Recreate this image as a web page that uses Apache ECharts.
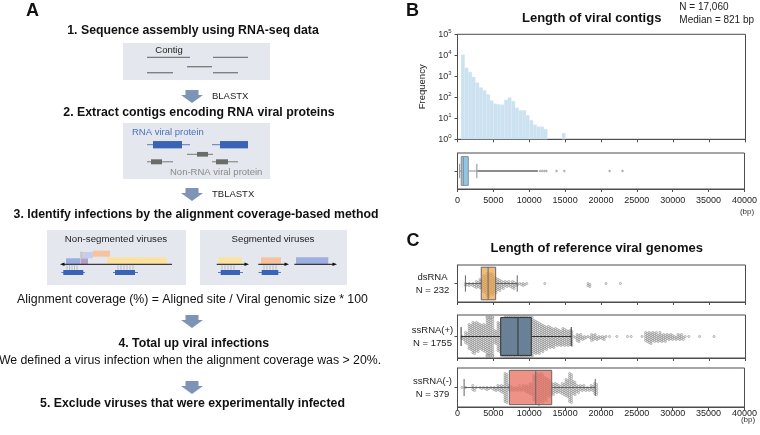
<!DOCTYPE html>
<html><head><meta charset="utf-8">
<script src="https://cdn.jsdelivr.net/npm/echarts@6/dist/echarts.min.js"></script>
<style>html,body{margin:0;padding:0;background:#fff}#c{width:760px;height:435px}</style>
</head><body><div id="c"></div>
<script>
const FONT = 'Liberation Sans, Arial, Helvetica, sans-serif';
const BIN = 500;

// ---- Panel B: viral contig lengths (counts per 500 bp bin, starting at 500 bp)
const contigBinStart = 500;
const contigCounts = [10700, 2570, 1580, 930, 500, 295, 214, 138, 71, 50, 46, 45, 76, 98, 66, 32, 24, 24, 14, 8, 5, 4, 4, 3, 1, 1, 1, 1, 2];
const contigBox = [300, 520, 821, 1500, 2700];       // min, Q1, median, Q3, upper whisker
const contigDenseOutliers = [2750, 11200];           // continuous band of outliers
const contigOutliers = [11500, 11800, 12100, 12400, 13800, 14900, 21200, 23000];
const contigN = '17,060';
const contigMedian = 821;

// ---- Panel C: reference genome lengths
const groups = ['dsRNA', 'ssRNA(+)', 'ssRNA(-)'];
const groupN = [232, 1755, 379];
const groupBox = [
  [1100, 3300, 4250, 5300, 8300],
  [500, 6000, 8400, 10250, 15800],
  [920, 7230, 10900, 13130, 19200]
];
// swarm point counts per 500 bp bin starting at 0 bp (as visible in the swarm)
const dsCounts = [0,0,3,3,4,7,10,18,24,22,16,12,8,6,5,8,3,2,3,1,0,0,0,0,1,0,0,0,0,0,0,0,0,0,0,0,4,0,0,0,0,1,0,0,0,1];
const posCounts = [0,4,12,26,32,30,26,28,48,46,14,30,40,48,50,52,50,48,50,46,42,34,32,28,24,22,20,18,16,18,16,16,2,8,5,3,2,7,5,3,4,1,1,0,1,0,0,1,1,0,0,1,10,12,10,9,9,8,6,6,4,6,5,1,1,0,0,1,0,0,0,1];
const negCounts = [0,1,1,0,5,1,2,2,3,2,4,6,8,30,6,4,4,5,6,8,12,26,32,30,24,18,12,10,8,12,18,30,14,8,6,5,4,6,12];
const groupCounts = [dsCounts, posCounts, negCounts];
const groupColors = ['rgba(236,160,70,0.7)', 'rgba(100,124,148,0.92)', 'rgba(232,110,96,0.75)'];
const groupStroke = ['#666', '#333', '#666'];

const xTicks = {min: 0, max: 40000, interval: 5000};

// ---------- layout
const GL = 457.5, GW = 288;
const grids = [
  {left: GL, top: 34.3, width: GW, height: 105},   // hist
  {left: GL, top: 153, width: GW, height: 36},     // B box
  {left: GL, top: 265, width: GW, height: 37},     // dsRNA
  {left: GL, top: 315, width: GW, height: 43},     // ssRNA(+)
  {left: GL, top: 368, width: GW, height: 39}      // ssRNA(-)
].map(g => Object.assign({show: true, borderColor: '#4d4d4d', borderWidth: 1, backgroundColor: 'transparent'}, g));

const axisLineStyle = {color: '#4d4d4d', width: 1};
function xAxis(i, showLabels, margin) {
  return {
    type: 'value', gridIndex: i, min: xTicks.min, max: xTicks.max, interval: xTicks.interval,
    axisLine: {show: true, lineStyle: axisLineStyle},
    axisTick: {show: true, length: 3, lineStyle: axisLineStyle},
    splitLine: {show: false},
    axisLabel: {show: showLabels, fontSize: 9, color: '#222', fontFamily: FONT, margin: margin, formatter: v => String(v)}
  };
}
const xAxes = [xAxis(0, false, 5), xAxis(1, true, 7), xAxis(2, false, 5), xAxis(3, false, 5), xAxis(4, true, 2)];

const yAxes = [
  {
    type: 'log', gridIndex: 0, min: 1, max: 100000, logBase: 10,
    name: 'Frequency', nameLocation: 'middle', nameGap: 30, nameRotate: 90,
    nameTextStyle: {fontSize: 9.5, color: '#222', fontFamily: FONT},
    axisLine: {show: true, lineStyle: axisLineStyle},
    axisTick: {show: true, length: 3, lineStyle: axisLineStyle},
    splitLine: {show: false},
    axisLabel: {
      margin: 6, fontFamily: FONT, color: '#333',
      formatter: v => '{b|10}{s|' + Math.round(Math.log10(v)) + '}',
      rich: {b: {fontSize: 9, fontFamily: FONT, color: '#333'}, s: {fontSize: 6, fontFamily: FONT, color: '#333', padding: [0, 0, 6, 0]}}
    }
  },
  {
    type: 'category', gridIndex: 1, data: [''],
    axisLine: {show: true, lineStyle: axisLineStyle},
    axisTick: {show: true, length: 3, alignWithLabel: true, lineStyle: axisLineStyle},
    axisLabel: {show: false}
  }
].concat(groups.map((g, i) => ({
  type: 'category', gridIndex: i + 2, data: [g + '\nN = ' + groupN[i]],
  axisLine: {show: true, lineStyle: axisLineStyle},
  axisTick: {show: true, length: 3, alignWithLabel: true, lineStyle: axisLineStyle},
  axisLabel: {fontSize: 9.5, color: '#222', fontFamily: FONT, align: 'center', margin: 25, lineHeight: 13}
})));

// ---------- series
const series = [];

// histogram
series.push({
  type: 'custom', xAxisIndex: 0, yAxisIndex: 0,
  data: contigCounts.map((n, i) => [contigBinStart + i * BIN, n]),
  encode: {x: 0, y: 1},
  renderItem(params, api) {
    const s = api.value(0), n = api.value(1);
    const p0 = api.coord([s, n]), p1 = api.coord([s + BIN, 1]);
    return {type: 'rect', shape: {x: p0[0], y: p0[1], width: p1[0] - p0[0], height: p1[1] - p0[1]}, style: {fill: '#cce2f1'}};
  }
});

function boxSeries(gi, stats, fill, stroke, frac, lw, z) {
  return {
    type: 'custom', xAxisIndex: gi, yAxisIndex: gi, z: z,
    data: [[0].concat(stats)],
    encode: {y: 0, x: [1, 2, 3, 4, 5]},
    renderItem(params, api) {
      const cy = api.coord([api.value(3), 0])[1];
      const h = api.size([0, 1])[1] * frac;
      const px = k => api.coord([api.value(k), 0])[0];
      const mn = px(1), q1 = px(2), md = px(3), q3 = px(4), mx = px(5);
      const ls = {stroke: stroke, lineWidth: lw};
      return {type: 'group', children: [
        {type: 'line', shape: {x1: mn, y1: cy, x2: q1, y2: cy}, style: ls},
        {type: 'line', shape: {x1: q3, y1: cy, x2: mx, y2: cy}, style: ls},
        {type: 'line', shape: {x1: mn, y1: cy - h / 4, x2: mn, y2: cy + h / 4}, style: ls},
        {type: 'line', shape: {x1: mx, y1: cy - h / 4, x2: mx, y2: cy + h / 4}, style: ls},
        {type: 'rect', shape: {x: q1, y: cy - h / 2, width: q3 - q1, height: h}, style: {fill: fill, stroke: stroke, lineWidth: lw}},
        {type: 'line', shape: {x1: md, y1: cy - h / 2, x2: md, y2: cy + h / 2}, style: ls}
      ]};
    }
  };
}

// B boxplot
series.push({
  type: 'line', xAxisIndex: 1, yAxisIndex: 1, z: 2, symbol: 'none', silent: true,
  data: contigDenseOutliers.map(v => [v, 0]),
  lineStyle: {color: '#8c8c8c', width: 2}
});
series.push(boxSeries(1, contigBox, '#8fc8e6', '#8c8c8c', 0.8, 1, 3));
series.push({
  type: 'scatter', xAxisIndex: 1, yAxisIndex: 1, symbol: 'diamond', symbolSize: 3,
  data: contigOutliers.map(v => [v, 0]),
  itemStyle: {color: '#9a9a9a'}
});

// C swarm + boxes
function swarmSeries(gi, counts) {
  const data = [];
  counts.forEach((n, i) => { if (n > 0) data.push([i * BIN, n]); });
  return {
    type: 'custom', xAxisIndex: gi, yAxisIndex: gi, z: 3,
    data: data, encode: {x: 0},
    renderItem(params, api) {
      const x0 = api.value(0), n = api.value(1);
      const a = api.coord([x0, 0]), b = api.coord([x0 + BIN, 0]);
      const cy = a[1];
      const half = api.size([0, 1])[1] / 2 - 2;
      const ncol = 2, step = 2.0;
      const children = [];
      for (let k = 0; k < n; k++) {
        const col = k % ncol, j = Math.floor(k / ncol);
        const m = Math.ceil(j / 2) * (j % 2 ? 1 : -1);
        let off = m * step + (col === 1 ? step / 2 : 0);
        if (off > half) off = half;
        if (off < -half) off = -half;
        const x = a[0] + (b[0] - a[0]) * (col + 0.5) / ncol;
        children.push({type: 'circle', shape: {cx: x, cy: cy + off, r: 1.1},
          style: {fill: '#e4e4e4', stroke: '#7a7a7a', lineWidth: 0.45}});
      }
      return {type: 'group', children: children};
    }
  };
}
groups.forEach((g, i) => {
  series.push(swarmSeries(i + 2, groupCounts[i]));
  series.push(boxSeries(i + 2, groupBox[i], groupColors[i], groupStroke[i], 0.88, 1, 4));
});

// ---------- graphic (panel A diagram + titles)
const G = [];
function T(text, x, y, o) {
  o = o || {};
  G.push({type: 'text', silent: true, style: {text: text, x: x, y: y, fill: o.fill || '#111',
    fontSize: o.size || 12.3, fontWeight: o.weight || 'normal', fontFamily: FONT,
    align: o.align || 'center', verticalAlign: 'middle', textAlign: o.align || 'center', textVerticalAlign: 'middle'}});
}
function R(x, y, w, h, fill) { G.push({type: 'rect', silent: true, shape: {x: x, y: y, width: w, height: h}, style: {fill: fill}}); }
function L(x1, y1, x2, y2, stroke, lw) { G.push({type: 'line', silent: true, shape: {x1: x1, y1: y1, x2: x2, y2: y2}, style: {stroke: stroke, lineWidth: lw}}); }
function P(points, fill) { G.push({type: 'polygon', silent: true, shape: {points: points}, style: {fill: fill}}); }
function blockArrow(top) {
  const cx = 192;
  P([[cx - 6.5, top], [cx + 6.5, top], [cx + 6.5, top + 5], [cx + 11, top + 5], [cx, top + 13], [cx - 11, top + 5], [cx - 6.5, top + 5]], '#7d94b7');
}
const BOXFILL = '#e4e7ee', GENEBLUE = '#3b63b5', GENELINE = '#5b7bbf', GRAYLINE = '#7a7a7a';
function gene(x1, x2, rx, rw, y, h, fill, line) { L(x1, y, x2, y, line, 1); R(rx, y - h / 2, rw, h, fill); }
function ticks(xs, y1, y2) { xs.forEach(x => L(x, y1, x, y2, '#9aa3b8', 0.6)); }

T('A', 32.5, 11.5, {size: 18, weight: 'bold'});
T('B', 412.5, 11, {size: 18, weight: 'bold'});
T('C', 413, 241, {size: 18, weight: 'bold'});

T('1. Sequence assembly using RNA-seq data', 193, 30.7, {weight: 'bold'});
R(123, 43, 147, 37, BOXFILL);
T('Contig', 169, 50, {size: 9.5, fill: '#222'});
L(147, 57.3, 190, 57.3, GRAYLINE, 1.3); L(213, 57.3, 248, 57.3, GRAYLINE, 1.3);
L(187, 66.7, 212, 66.7, GRAYLINE, 1.3);
L(147, 72.7, 173, 72.7, GRAYLINE, 1.3); L(213, 72.7, 238, 72.7, GRAYLINE, 1.3);
blockArrow(90);
T('BLASTX', 212, 96.7, {size: 9.5, align: 'left', fill: '#222'});

T('2. Extract contigs encoding RNA viral proteins', 199, 112.7, {weight: 'bold'});
R(123, 123, 147, 56, BOXFILL);
T('RNA viral protein', 132, 132.3, {size: 9.5, align: 'left', fill: '#4a70c0'});
gene(147, 190, 153, 29, 144.7, 7.3, GENEBLUE, GENELINE);
gene(212, 248, 220, 28, 144.7, 7.3, GENEBLUE, GENELINE);
gene(187, 213, 197, 11, 154.3, 4.7, '#6b6b6b', GRAYLINE);
gene(147, 173, 151, 11, 161.8, 5, '#6b6b6b', GRAYLINE);
gene(212, 238, 216, 12, 161.8, 5, '#6b6b6b', GRAYLINE);
T('Non-RNA viral protein', 170, 172.7, {size: 9.5, align: 'left', fill: '#8a8a8a'});
blockArrow(188);
T('TBLASTX', 212, 194, {size: 9.5, align: 'left', fill: '#222'});

T('3. Identify infections by the alignment coverage-based method', 196, 215, {weight: 'bold'});
R(47, 230, 139, 55, BOXFILL);
R(200, 230, 147, 55, BOXFILL);
T('Non-segmented viruses', 116, 239.3, {size: 9.7, fill: '#222'});
T('Segmented viruses', 273, 239.3, {size: 9.7, fill: '#222'});
// non-segmented
R(66, 258.3, 14, 5.9, '#98aee0');
R(80.5, 258.3, 7.5, 5.9, '#b49fc6');
R(80, 251.7, 3.3, 6.5, '#c8c8d2');
R(83.3, 252, 9.5, 6.3, '#c5cdea');
R(92.7, 250.7, 17.3, 6, '#f6c3a1');
R(107, 257.3, 59.7, 6.9, '#fbe2a0');
L(62, 264.3, 172, 264.3, '#111', 1);
P([[60, 264.3], [64.5, 262.5], [64.5, 266.1]], '#111');
ticks([67, 69.5, 72, 74.5, 77], 264.8, 270);
gene(61.5, 85, 63.3, 20, 272.5, 5, GENEBLUE, GENELINE);
ticks([118, 121, 124, 127, 130, 133], 264.8, 270);
gene(113, 138, 115, 20, 272.5, 5, GENEBLUE, GENELINE);
// segmented
R(218.3, 257.3, 23.4, 6.9, '#fbe2a0');
L(216.7, 264.3, 246, 264.3, '#111', 1);
P([[249, 264.3], [244.5, 262.5], [244.5, 266.1]], '#111');
ticks([222, 225, 228, 231, 234], 264.8, 270);
gene(218, 243, 220.7, 19.3, 272.5, 5, GENEBLUE, GENELINE);
R(261, 257.3, 20, 6.9, '#f6c3a1');
L(258.3, 264.3, 286, 264.3, '#111', 1);
P([[289, 264.3], [284.5, 262.5], [284.5, 266.1]], '#111');
ticks([264, 267, 270, 273, 276], 264.8, 270);
gene(258.5, 281, 261.7, 16.6, 272.5, 5, GENEBLUE, GENELINE);
R(296, 257.3, 32.3, 6.9, '#9eb0de');
L(294.3, 264.3, 334, 264.3, '#111', 1);
P([[337, 264.3], [332.5, 262.5], [332.5, 266.1]], '#111');

T('Alignment coverage (%) = Aligned site / Viral genomic size * 100', 192.5, 300);
blockArrow(315);
T('4. Total up viral infections', 193.8, 343.3, {weight: 'bold'});
T('We defined a virus infection when the alignment coverage was > 20%.', 190, 361);
blockArrow(381);
T('5. Exclude viruses that were experimentally infected', 192.5, 403.3, {weight: 'bold'});

// B/C titles and notes
T('Length of viral contigs', 591.7, 18.3, {size: 13, weight: 'bold'});
T('N = ' + contigN, 679.3, 7, {size: 10, align: 'left', fill: '#222'});
T('Median = ' + contigMedian + ' bp', 679.3, 20.7, {size: 10, align: 'left', fill: '#222'});
T('(bp)', 747, 211.7, {size: 8, fill: '#333'});
T('Length of reference viral genomes', 596.7, 248.3, {size: 13, weight: 'bold'});
T('(bp)', 748, 419.5, {size: 8, fill: '#333'});

const chart = echarts.init(document.getElementById('c'), null, {renderer: 'canvas'});
chart.setOption({
  animation: false,
  backgroundColor: '#fff',
  textStyle: {fontFamily: FONT},
  grid: grids,
  xAxis: xAxes,
  yAxis: yAxes,
  series: series,
  graphic: G
});
</script>
</body></html>
